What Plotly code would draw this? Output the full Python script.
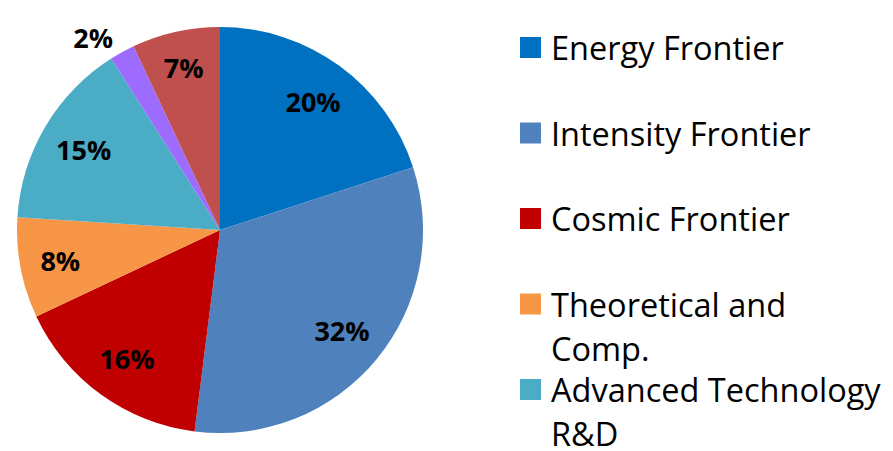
import plotly.graph_objects as go

# Budget share by program area (percent)
categories = [
    "Energy Frontier",
    "Intensity Frontier",
    "Cosmic Frontier",
    "Theoretical and Comp.",
    "Advanced Technology R&D",
    "Other",
    "Facilities",
]
shares = [20, 32, 16, 8, 15, 2, 7]
colors = ["#0070C0", "#4F81BD", "#C00000", "#F79646", "#4BACC6", "#9E6BFF", "#C0504D"]
label_positions = ["inside", "inside", "inside", "inside", "inside", "outside", "inside"]

# Legend text, wrapped the way it is laid out beside the pie
legend_lines = [
    ["Energy Frontier"],
    ["Intensity Frontier"],
    ["Cosmic Frontier"],
    ["Theoretical and", "Comp."],
    ["Advanced Technology", "R&D"],
]

W, H = 893, 451
cx, cy, r = 220, 230, 203
domain = dict(x=[(cx - r) / W, (cx + r) / W], y=[1 - (cy + r) / H, 1 - (cy - r) / H])

fig = go.Figure()

# Filled slices
fig.add_trace(go.Pie(
    labels=categories, values=shares, sort=False, direction="clockwise", rotation=0,
    marker=dict(colors=colors, line=dict(width=0)),
    textinfo="none", hoverinfo="label+percent", showlegend=False, domain=domain,
))

# Transparent ring over the same slices carrying the percentage labels
fig.add_trace(go.Pie(
    labels=categories, values=shares, sort=False, direction="clockwise", rotation=0,
    hole=0.56,
    marker=dict(colors=["rgba(0,0,0,0)"] * len(shares), line=dict(width=0)),
    texttemplate="%{value}%", textposition=label_positions,
    textfont=dict(family="Open Sans", size=27, color="black", weight=700),
    insidetextorientation="horizontal",
    hoverinfo="skip", showlegend=False, domain=domain,
))

# Legend: colour squares and wrapped labels
shapes, annotations = [], []
row0, row_step, line_step = 47.5, 85.5, 44
sq = 21
for i, lines in enumerate(legend_lines):
    yc = row0 + row_step * i
    shapes.append(dict(
        type="rect", xref="paper", yref="paper",
        x0=520 / W, x1=(520 + sq) / W,
        y0=1 - (yc + sq / 2) / H, y1=1 - (yc - sq / 2) / H,
        fillcolor=colors[i], line=dict(width=0),
    ))
    for j, txt in enumerate(lines):
        annotations.append(dict(
            text=txt, xref="paper", yref="paper",
            x=549 / W, y=1 - (yc + line_step * j) / H,
            xanchor="left", yanchor="middle", showarrow=False,
            font=dict(family="Open Sans", size=32.5, color="black"),
        ))

fig.update_layout(
    width=W, height=H,
    margin=dict(l=0, r=0, t=0, b=0),
    paper_bgcolor="white", plot_bgcolor="white",
    shapes=shapes, annotations=annotations,
    showlegend=False,
)

fig.write_html("out.html")
